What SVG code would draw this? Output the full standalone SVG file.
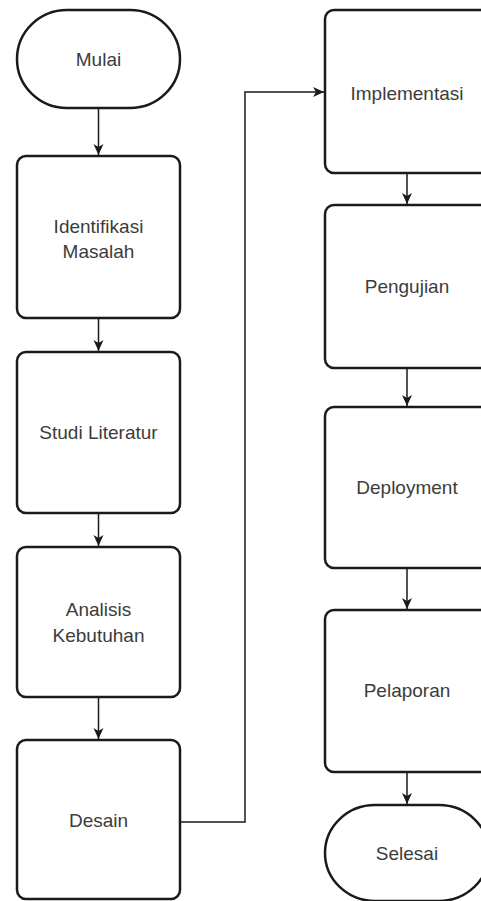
<svg xmlns="http://www.w3.org/2000/svg" width="481" height="901" viewBox="0 0 481 901">
<style>
.n{fill:#fff;stroke:#1a1a1a;stroke-width:2.5}
.t{font-family:"Liberation Sans",Arial,sans-serif;font-size:19px;fill:#3c3c3c;text-anchor:middle;dominant-baseline:central}
.c{fill:none;stroke:#1a1a1a;stroke-width:1.5}
</style>
<defs>
<marker id="ah" markerWidth="12" markerHeight="12" viewBox="0 0 12 12" refX="11" refY="6" orient="auto" markerUnits="userSpaceOnUse">
<path d="M0,1 L11,6 L0,11 L3,6 Z" fill="#1a1a1a"/>
</marker>
</defs>
<rect width="481" height="901" fill="#fff"/>
<g id="connectors">
<path class="c" d="M98.5,108 V155" marker-end="url(#ah)"/>
<path class="c" d="M98.5,318 V351" marker-end="url(#ah)"/>
<path class="c" d="M98.5,513 V546" marker-end="url(#ah)"/>
<path class="c" d="M98.5,697 V739" marker-end="url(#ah)"/>
<path class="c" d="M180,822 H245 V92 H324" marker-end="url(#ah)"/>
<path class="c" d="M407,173 V204" marker-end="url(#ah)"/>
<path class="c" d="M407,368 V406" marker-end="url(#ah)"/>
<path class="c" d="M407,568 V609" marker-end="url(#ah)"/>
<path class="c" d="M407,772 V804" marker-end="url(#ah)"/>
</g>
<g id="mulai"><rect class="n" x="17" y="10" width="163" height="98" rx="50" ry="49"/><text class="t" x="98.5" y="59">Mulai</text></g>
<g id="identifikasi"><rect class="n" x="17" y="156" width="163" height="162" rx="9"/><text class="t" x="98.5" y="226">Identifikasi</text><text class="t" x="98.5" y="251">Masalah</text></g>
<g id="studi"><rect class="n" x="17" y="352" width="163" height="161" rx="9"/><text class="t" x="98.5" y="432">Studi Literatur</text></g>
<g id="analisis"><rect class="n" x="17" y="547" width="163" height="150" rx="9"/><text class="t" x="98.5" y="609">Analisis</text><text class="t" x="98.5" y="635">Kebutuhan</text></g>
<g id="desain"><rect class="n" x="17" y="740" width="163" height="159" rx="9"/><text class="t" x="98.5" y="820">Desain</text></g>
<g id="implementasi"><rect class="n" x="325" y="10" width="164" height="163" rx="9"/><text class="t" x="407" y="93">Implementasi</text></g>
<g id="pengujian"><rect class="n" x="325" y="205" width="164" height="163" rx="9"/><text class="t" x="407" y="286">Pengujian</text></g>
<g id="deployment"><rect class="n" x="325" y="407" width="164" height="161" rx="9"/><text class="t" x="407" y="487">Deployment</text></g>
<g id="pelaporan"><rect class="n" x="325" y="610" width="164" height="162" rx="9"/><text class="t" x="407" y="690">Pelaporan</text></g>
<g id="selesai"><rect class="n" x="325" y="805" width="164" height="96" rx="50" ry="48"/><text class="t" x="407" y="853">Selesai</text></g>
</svg>
